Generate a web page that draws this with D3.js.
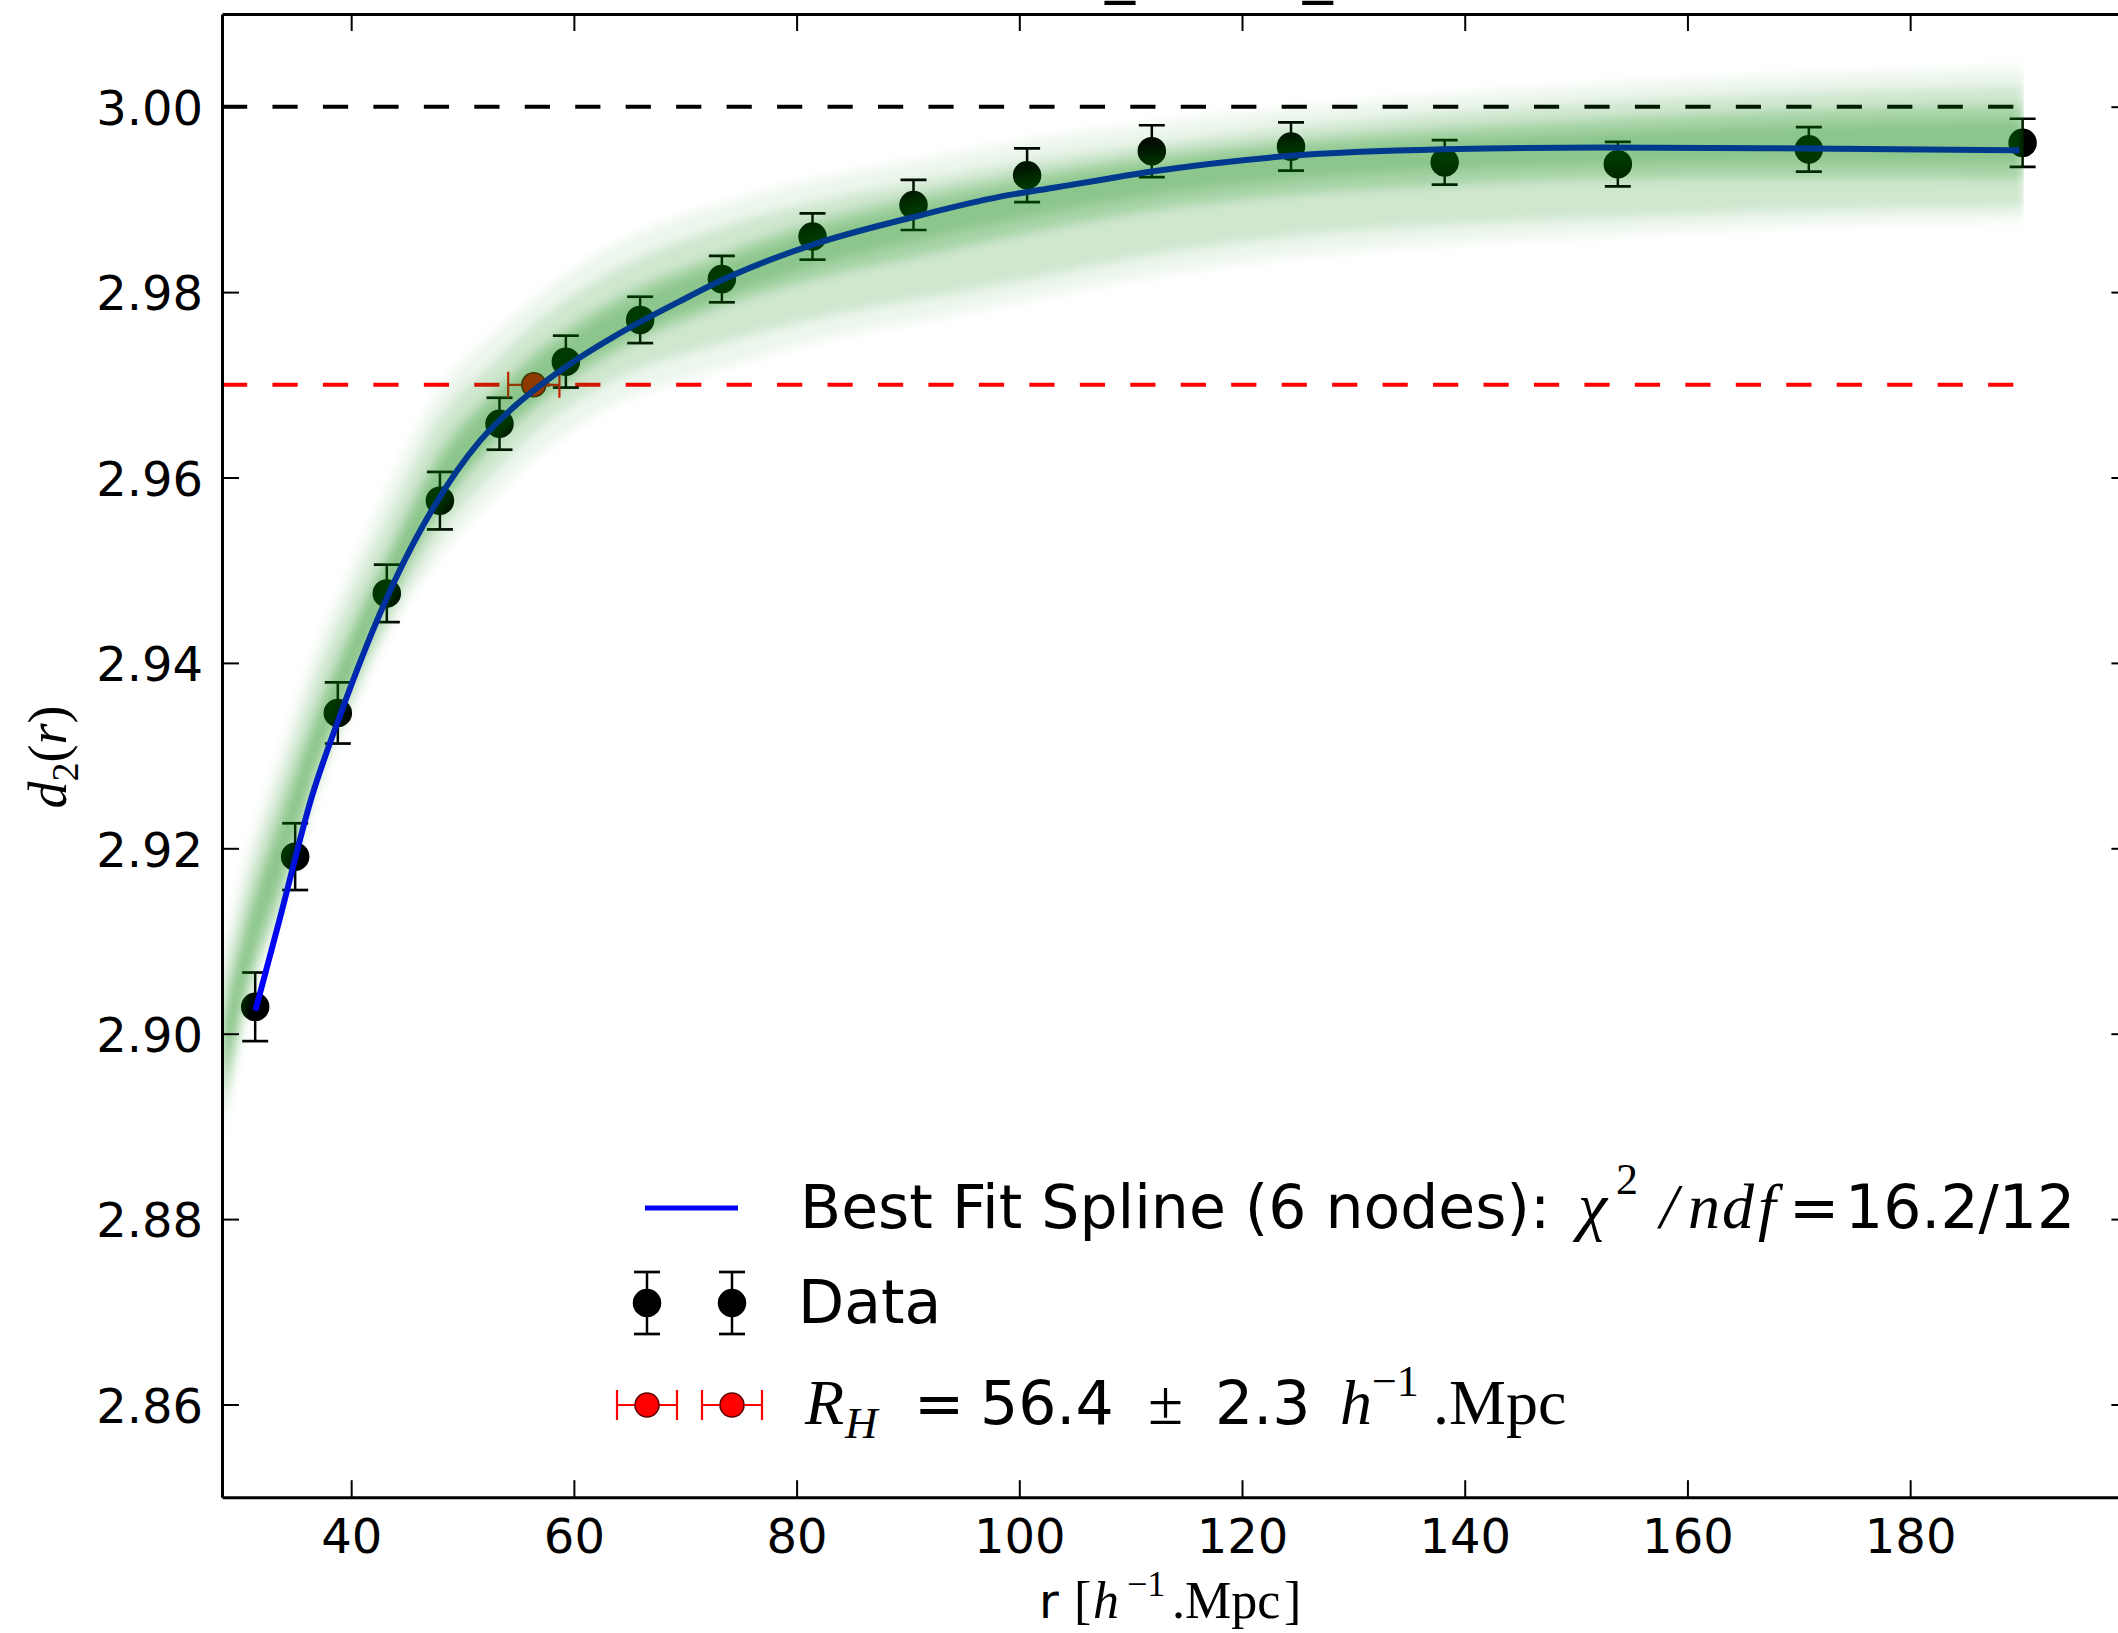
<!DOCTYPE html>
<html>
<head>
<meta charset="utf-8">
<script src="https://cdn.jsdelivr.net/npm/d3@7"></script>
<style>
  html, body { margin: 0; padding: 0; background: #fff; overflow: hidden; }
  svg { display: block; }
</style>
</head>
<body>
<svg id="chart" width="2118" height="1633"></svg>
<script>
// ---- measured d2(r) points with 1-sigma errors ----
const radius = [31.38, 34.97, 38.80, 43.20, 47.97, 53.32, 59.28, 65.95, 73.29, 81.43, 90.50, 100.7, 111.9, 124.4, 138.2, 153.75, 170.9, 190.1];
const d2 = [2.9029, 2.9191, 2.9346, 2.9475, 2.9575, 2.9658, 2.9725, 2.9770, 2.9814, 2.9860, 2.9894, 2.9926, 2.9952, 2.9957, 2.9940, 2.9938, 2.9954, 2.9961];
const d2Err = [0.0037, 0.0036, 0.0033, 0.0031, 0.0031, 0.0028, 0.0028, 0.0025, 0.0025, 0.0025, 0.0027, 0.0029, 0.0028, 0.0026, 0.0024, 0.0024, 0.0024, 0.0026];

// ---- best-fit spline (6 nodes) ----
const fitR = [31.4, 33.5, 36.5, 38.8, 43.8, 47.4, 51.6, 54.6, 57.6, 60.6, 63.6, 69.5, 73.3, 81.4, 90.5, 98.3, 102.8, 107.3, 111.9, 124.4, 138.2, 152.3, 170.9, 189.8];
const fitD2 = [2.9025, 2.9120, 2.9257, 2.9337, 2.9486, 2.9568, 2.9640, 2.9676, 2.9705, 2.9730, 2.9752, 2.9790, 2.9813, 2.9851, 2.9881, 2.9903, 2.9912, 2.9921, 2.9930, 2.9947, 2.9954, 2.9956, 2.9955, 2.9953];

// ---- spread of the Monte-Carlo spline realisations ----
const bandR = [28.4, 30.9, 33.9, 36.9, 40.0, 43.2, 48.0, 53.3, 56.4, 62.0, 73.3, 82.0, 92.3, 100.0, 112.0, 124.4, 138.0, 152.8, 170.0, 190.2];
const bandInnerLo = [2.8950, 2.9078, 2.9182, 2.9296, 2.9385, 2.9468, 2.9574, 2.9650, 2.9684, 2.9733, 2.9795, 2.9830, 2.9860, 2.9880, 2.9905, 2.9922, 2.9932, 2.9938, 2.9940, 2.9940];
const bandInnerHi = [2.8998, 2.9122, 2.9228, 2.9334, 2.9424, 2.9506, 2.9615, 2.9688, 2.9722, 2.9769, 2.9830, 2.9866, 2.9895, 2.9914, 2.9937, 2.9953, 2.9964, 2.9972, 2.9980, 2.9985];
const bandCoreLo = [2.8930, 2.9058, 2.9160, 2.9280, 2.9372, 2.9458, 2.9562, 2.9640, 2.9673, 2.9722, 2.9784, 2.9815, 2.9842, 2.9862, 2.9888, 2.9905, 2.9915, 2.9922, 2.9923, 2.9922];
const bandCoreHi = [2.9012, 2.9138, 2.9250, 2.9350, 2.9438, 2.9518, 2.9630, 2.9700, 2.9735, 2.9782, 2.9842, 2.9878, 2.9908, 2.9926, 2.9948, 2.9964, 2.9977, 2.9987, 2.9996, 3.0002];
const bandOuterLo = [2.8905, 2.9042, 2.9145, 2.9266, 2.9358, 2.9440, 2.9538, 2.9612, 2.9648, 2.9695, 2.9745, 2.9772, 2.9795, 2.9812, 2.9840, 2.9860, 2.9872, 2.9880, 2.9888, 2.9892];
const bandOuterHi = [2.9052, 2.9172, 2.9282, 2.9386, 2.9472, 2.9552, 2.9665, 2.9730, 2.9765, 2.9812, 2.9870, 2.9898, 2.9922, 2.9940, 2.9960, 2.9978, 2.9993, 3.0005, 3.0015, 3.0022];
const bandFaintLo = [2.8890, 2.9030, 2.9135, 2.9255, 2.9345, 2.9428, 2.9515, 2.9585, 2.9620, 2.9668, 2.9718, 2.9748, 2.9772, 2.9790, 2.9818, 2.9838, 2.9852, 2.9862, 2.9872, 2.9878];
const bandFaintHi = [2.9082, 2.9202, 2.9312, 2.9416, 2.9502, 2.9587, 2.9695, 2.9760, 2.9792, 2.9840, 2.9895, 2.9922, 2.9945, 2.9962, 2.9982, 2.9998, 3.0012, 3.0024, 3.0034, 3.0042];

// ---- reference levels and homogeneity scale ----
const homogeneousLevel = 3.00;
const thresholdLevel = 2.97;
const lineSpan = [28.4, 190.1];
const homogeneityR = 56.4;
const homogeneityErr = 2.3;

// ---- axes ----
const xDomain = [28.4, 199.6];
const yDomain = [2.85, 3.01];
const xTicks = [40, 60, 80, 100, 120, 140, 160, 180];
const yTicks = [2.86, 2.88, 2.90, 2.92, 2.94, 2.96, 2.98, 3.00];

const SANS = "'DejaVu Sans', 'Bitstream Vera Sans', sans-serif";
const MATH = "'Liberation Serif', 'Times New Roman', serif";

const sx = d3.scaleLinear().domain(xDomain).range([222.0, 2128.4]);
const sy = d3.scaleLinear().domain(yDomain).range([1497.2, 14]);

const svg = d3.select("#chart");
const defs = svg.append("defs");
const plotX0 = sx(xDomain[0]), plotX1 = sx(xDomain[1]);
const plotY0 = sy(yDomain[1]), plotY1 = sy(yDomain[0]);

defs.append("clipPath").attr("id", "plotArea")
  .append("rect").attr("x", plotX0).attr("y", plotY0)
  .attr("width", plotX1 - plotX0).attr("height", plotY1 - plotY0);
defs.append("clipPath").attr("id", "bandArea")
  .append("rect").attr("x", plotX0).attr("y", plotY0)
  .attr("width", sx(d3.max(bandR)) - plotX0).attr("height", plotY1 - plotY0);
defs.append("filter").attr("id", "soften")
  .attr("x", "-5%").attr("y", "-5%").attr("width", "110%").attr("height", "110%")
  .append("feGaussianBlur").attr("stdDeviation", 5);

// title (only its lower edge falls inside the page)
const title = svg.append("text")
  .attr("y", -9.5).attr("font-family", SANS).attr("font-size", 60).attr("fill", "#000")
  .text("CMASS_North_fit");
title.attr("x", 1105 - title.node().getSubStringLength(0, 5));

const plot = svg.append("g").attr("clip-path", "url(#plotArea)");

// dashed reference levels
[[homogeneousLevel, "#000"], [thresholdLevel, "#ff0000"]].forEach(([lvl, col]) => {
  plot.append("line")
    .attr("x1", sx(lineSpan[0])).attr("x2", sx(lineSpan[1]))
    .attr("y1", sy(lvl)).attr("y2", sy(lvl))
    .attr("stroke", col).attr("stroke-width", 4)
    .attr("stroke-dasharray", "25.2 25.26");
});

// data error bars and markers
const capHalf = 13;
const pts = plot.append("g");
radius.forEach((r, i) => {
  const x = sx(r), yTop = sy(d2[i] + d2Err[i]), yBot = sy(d2[i] - d2Err[i]);
  pts.append("line").attr("x1", x).attr("x2", x).attr("y1", yTop).attr("y2", yBot)
    .attr("stroke", "#000").attr("stroke-width", 2.5);
  [yTop, yBot].forEach(yc => pts.append("line")
    .attr("x1", x - capHalf).attr("x2", x + capHalf).attr("y1", yc).attr("y2", yc)
    .attr("stroke", "#000").attr("stroke-width", 2.7));
});
pts.selectAll("circle").data(radius).join("circle")
  .attr("cx", d => sx(d)).attr("cy", (d, i) => sy(d2[i])).attr("r", 13.5)
  .attr("fill", "#000").attr("stroke", "#000").attr("stroke-width", 1.5);

// homogeneity scale point with horizontal error bar
const hx0 = sx(homogeneityR - homogeneityErr), hx1 = sx(homogeneityR + homogeneityErr), hy = sy(thresholdLevel);
plot.append("line").attr("x1", hx0).attr("x2", hx1).attr("y1", hy).attr("y2", hy)
  .attr("stroke", "#ff0000").attr("stroke-width", 2.2);
[hx0, hx1].forEach(xc => plot.append("line").attr("x1", xc).attr("x2", xc)
  .attr("y1", hy - 13).attr("y2", hy + 13).attr("stroke", "#ff0000").attr("stroke-width", 2.2));
plot.append("circle").attr("cx", sx(homogeneityR)).attr("cy", hy).attr("r", 12)
  .attr("fill", "#ff0000").attr("stroke", "#5a0000").attr("stroke-width", 1.5);

// best-fit spline
plot.append("path")
  .attr("d", d3.line().x((d, i) => sx(fitR[i])).y(d => sy(d)).curve(d3.curveMonotoneX)(fitD2))
  .attr("fill", "none").attr("stroke", "#0000ff").attr("stroke-width", 6)
  .attr("stroke-linejoin", "round");

// spline realisations, drawn translucent on top
const bandOuter = plot.append("g").attr("clip-path", "url(#bandArea)");
const band = bandOuter.append("g").attr("filter", "url(#soften)");
[[bandFaintLo, bandFaintHi, 0.07], [bandOuterLo, bandOuterHi, 0.13],
 [bandCoreLo, bandCoreHi, 0.20], [bandInnerLo, bandInnerHi, 0.16]]
  .forEach(([lo, hi, op]) => {
    const area = d3.area()
      .x((d, i) => sx(bandR[i]))
      .y0((d, i) => sy(lo[i]))
      .y1((d, i) => sy(hi[i]))
      .curve(d3.curveMonotoneX);
    band.append("path").attr("d", area(bandR)).attr("fill", "#008000").attr("fill-opacity", op);
  });

// ---- axes: spines, inward ticks, labels ----
function styleAxis(g) {
  g.select(".domain").attr("stroke", "#000").attr("stroke-width", 3);
  g.selectAll(".tick line").attr("stroke", "#000").attr("stroke-width", 2);
  g.selectAll(".tick text").attr("font-family", SANS).attr("font-size", 48).attr("fill", "#000");
}
const bottomAxis = svg.append("g").attr("transform", `translate(0,${plotY1})`)
  .call(d3.axisBottom(sx).tickValues(xTicks).tickSizeInner(-17).tickSizeOuter(0).tickPadding(22).tickFormat(d3.format("d")));
styleAxis(bottomAxis);
const topAxis = svg.append("g").attr("transform", `translate(0,${plotY0})`)
  .call(d3.axisTop(sx).tickValues(xTicks).tickSizeInner(-17).tickSizeOuter(0).tickFormat(""));
styleAxis(topAxis);
const leftAxis = svg.append("g").attr("transform", `translate(${plotX0},0)`)
  .call(d3.axisLeft(sy).tickValues(yTicks).tickSizeInner(-17).tickSizeOuter(0).tickPadding(19).tickFormat(d3.format(".2f")));
styleAxis(leftAxis);
leftAxis.selectAll(".tick text").attr("dy", "0.37em");
const rightAxis = svg.append("g").attr("transform", `translate(${plotX1},0)`)
  .call(d3.axisRight(sy).tickValues(yTicks).tickSizeInner(-17).tickSizeOuter(0).tickFormat(""));
styleAxis(rightAxis);

// mixed text/maths builder; each part may carry its own x, size and raise
function richText(parent, x, y, size, parts, anchor) {
  const t = parent.append("text").attr("x", x).attr("y", y)
    .attr("font-size", size).attr("fill", "#000").attr("text-anchor", anchor || "start")
    .style("white-space", "pre");
  let shift = 0;
  parts.forEach(p => {
    const ts = t.append("tspan").text(p.t)
      .attr("font-family", p.math ? MATH : SANS);
    if (p.italic) ts.attr("font-style", "italic");
    if (p.x !== undefined) ts.attr("x", p.x);
    const target = p.raise ? -p.raise : 0;
    ts.attr("font-size", p.size || size).attr("dy", target - shift);
    shift = target;
  });
  return t;
}

// axis titles
richText(svg, 1039, 1618, 48, [
  { t: "r" },
  { t: "[", math: true, x: 1074, size: 52 },
  { t: "h", math: true, italic: true, x: 1093, size: 52 },
  { t: "\u22121", math: true, x: 1127, size: 36, raise: 22 },
  { t: ".Mpc", math: true, x: 1172, size: 52 },
  { t: "]", math: true, x: 1284, size: 52 }
]);

const yLab = svg.append("g").attr("transform", "translate(66,757) rotate(-90)");
richText(yLab, 0, 0, 54, [
  { t: "d", math: true, italic: true },
  { t: "2", math: true, size: 38, raise: -12 },
  { t: "(", math: true },
  { t: "r", math: true, italic: true },
  { t: ")", math: true }
], "middle");

// ---- legend ----
const legend = svg.append("g");
const handleX = [647, 732];

legend.append("line").attr("x1", 645).attr("x2", 738).attr("y1", 1208).attr("y2", 1208)
  .attr("stroke", "#0000ff").attr("stroke-width", 5);
richText(legend, 800, 1228, 60, [
  { t: "Best Fit Spline (6 nodes):" },
  { t: "\u03c7", math: true, italic: true, x: 1578, size: 66 },
  { t: "2", math: true, x: 1616, size: 44, raise: 34 },
  { t: "/", math: true, italic: true, x: 1660, size: 64 },
  { t: "n", math: true, italic: true, x: 1688, size: 64 },
  { t: "d", math: true, italic: true, x: 1722, size: 64 },
  { t: "f", math: true, italic: true, x: 1758, size: 64 },
  { t: "=", x: 1789 },
  { t: "16.2/12", x: 1845 }
]);

handleX.forEach(x => {
  const y = 1303;
  legend.append("line").attr("x1", x).attr("x2", x).attr("y1", y - 31).attr("y2", y + 31)
    .attr("stroke", "#000").attr("stroke-width", 2.5);
  [y - 31, y + 31].forEach(yc => legend.append("line")
    .attr("x1", x - capHalf).attr("x2", x + capHalf).attr("y1", yc).attr("y2", yc)
    .attr("stroke", "#000").attr("stroke-width", 2.7));
  legend.append("circle").attr("cx", x).attr("cy", y).attr("r", 13.5)
    .attr("fill", "#000").attr("stroke", "#000").attr("stroke-width", 1.5);
});
richText(legend, 798, 1323, 60, [{ t: "Data" }]);

handleX.forEach(x => {
  const y = 1405;
  legend.append("line").attr("x1", x - 30).attr("x2", x + 30).attr("y1", y).attr("y2", y)
    .attr("stroke", "#ff0000").attr("stroke-width", 2.2);
  [x - 30, x + 30].forEach(xc => legend.append("line")
    .attr("x1", xc).attr("x2", xc).attr("y1", y - 15).attr("y2", y + 15)
    .attr("stroke", "#ff0000").attr("stroke-width", 2.2));
  legend.append("circle").attr("cx", x).attr("cy", y).attr("r", 12)
    .attr("fill", "#ff0000").attr("stroke", "#5a0000").attr("stroke-width", 1.5);
});
richText(legend, 805, 1424, 60, [
  { t: "R", math: true, italic: true, size: 64 },
  { t: "H", math: true, italic: true, x: 845, size: 45, raise: -14 },
  { t: "=", x: 914 },
  { t: homogeneityR.toFixed(1), x: 980 },
  { t: "\u00b1", math: true, x: 1148, size: 64 },
  { t: homogeneityErr.toFixed(1), x: 1215 },
  { t: "h", math: true, italic: true, x: 1340, size: 64 },
  { t: "\u22121", math: true, x: 1372, size: 44, raise: 28 },
  { t: ".Mpc", math: true, x: 1433, size: 64 }
]);
</script>
</body>
</html>
